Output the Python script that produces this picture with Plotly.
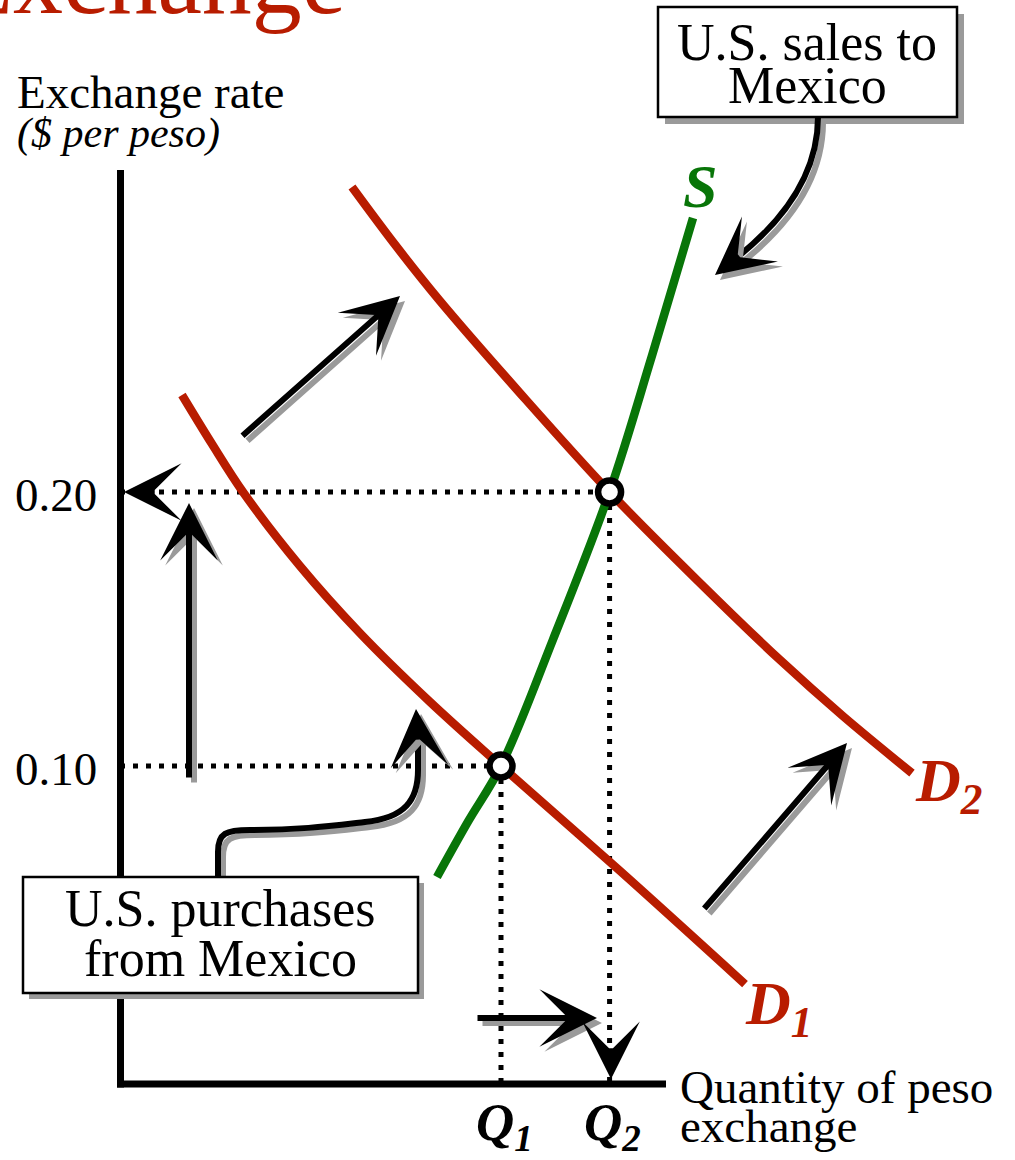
import plotly.graph_objects as go

# ---------------- data ----------------
eq_rates = [0.10, 0.20]              # equilibrium exchange rates ($ per peso)
eq_quantities = [100.0, 128.5]       # Q1, Q2 (arbitrary quantity units)
y_tick_vals = [0.10, 0.20]
y_tick_labels = ["0.10", "0.20"]
x_tick_labels = ["<b><i>Q<sub>1</sub></i></b>", "<b><i>Q<sub>2</sub></i></b>"]

d1_q = [16.27, 24.15, 32.28, 47.24, 62.99, 81.36, 100.0, 131.23, 164.04]
d1_p = [0.2354, 0.2175, 0.2000, 0.1730, 0.1485, 0.1234, 0.1000, 0.0617, 0.0204]
d2_q = [60.89, 72.44, 83.99, 104.99, 128.5, 152.23, 173.23, 189.76, 207.87]
d2_p = [0.3113, 0.2898, 0.2697, 0.2361, 0.2000, 0.1668, 0.1387, 0.1182, 0.0974]
s_q = [83.2, 91.3, 100.0, 113.6, 128.5, 139.6, 150.4]
s_p = [0.0595, 0.0796, 0.1000, 0.1460, 0.2000, 0.2496, 0.3000]

# ---------------- layout geometry ----------------
W, H = 1015, 1160
X0, SX = 120.0, 3.81      # pixel of quantity 0, pixels per quantity unit
Y0, SY = 1040.0, 2740.0   # pixel of rate 0, pixels per $ of rate

RED = "#B81C00"
GREEN = "#087508"
SHADOW = "#9A9A9A"
FONT = "Liberation Serif"


def qx(px):
    return (px - X0) / SX


def ry(py):
    return (Y0 - py) / SY


x_axis_level = ry(1084)   # y of the horizontal axis line
y_axis_pos = qx(120.5)    # x of the vertical axis line

fig = go.Figure()

dotted = dict(color="black", width=5, dash="5px,8px")
Q1, Q2 = eq_quantities
P1, P2 = eq_rates

# dotted guide lines
fig.add_trace(go.Scatter(x=[0, Q2], y=[P2, P2], mode="lines", line=dotted))
fig.add_trace(go.Scatter(x=[0, Q1], y=[P1, P1], mode="lines", line=dotted))
fig.add_trace(go.Scatter(x=[Q1, Q1], y=[P1, x_axis_level], mode="lines", line=dotted))
fig.add_trace(go.Scatter(x=[Q2, Q2], y=[P2, x_axis_level], mode="lines", line=dotted))

# curves
curve_style = dict(width=8.5, shape="spline", smoothing=1.0)
fig.add_trace(go.Scatter(x=d1_q, y=d1_p, mode="lines", line=dict(color=RED, **curve_style)))
fig.add_trace(go.Scatter(x=d2_q, y=d2_p, mode="lines", line=dict(color=RED, **curve_style)))
fig.add_trace(go.Scatter(x=s_q, y=s_p, mode="lines", line=dict(color=GREEN, **curve_style)))

# equilibrium points
fig.add_trace(go.Scatter(x=eq_quantities, y=eq_rates, mode="markers",
                         marker=dict(size=23, color="white", line=dict(color="black", width=6.5))))

shapes = []
# axes
shapes.append(dict(type="line", xref="x", yref="y", x0=y_axis_pos, x1=y_axis_pos,
                   y0=ry(170), y1=ry(1087.5), line=dict(color="black", width=7), layer="below"))
shapes.append(dict(type="line", xref="x", yref="y", x0=qx(117), x1=qx(666),
                   y0=x_axis_level, y1=x_axis_level, line=dict(color="black", width=7), layer="below"))


def path_d(segments, dx=0.0, dy=0.0):
    parts = []
    for cmd, pts in segments:
        coords = " ".join(f"{qx(x + dx):.4f},{ry(y + dy):.6f}" for x, y in pts)
        parts.append(f"{cmd}{coords}")
    return " ".join(parts)


sales_shaft = [("M", [(818, 117)]), ("C", [(818, 185), (768, 232.5), (738.4, 256.3)])]
purch_shaft = [("M", [(218, 878)]), ("L", [(218, 852)]),
               ("C", [(218, 833), (226, 830), (250, 830)]),
               ("C", [(300, 830), (330, 826), (365, 822)]),
               ("C", [(405, 818), (418, 800), (418, 770)]),
               ("L", [(418, 739)])]

SH = 5
for seg in (sales_shaft, purch_shaft):
    shapes.append(dict(type="path", xref="x", yref="y", path=path_d(seg, SH, SH),
                       line=dict(color=SHADOW, width=6), layer="above"))


def box(x0, y0, x1, y1, off):
    shapes.append(dict(type="rect", xref="x", yref="y", x0=qx(x0 + off), x1=qx(x1 + off),
                       y0=ry(y0 + off), y1=ry(y1 + off), fillcolor=SHADOW,
                       line=dict(width=0), layer="above"))
    shapes.append(dict(type="rect", xref="x", yref="y", x0=qx(x0), x1=qx(x1),
                       y0=ry(y0), y1=ry(y1), fillcolor="white",
                       line=dict(color="black", width=2.5), layer="above"))


box(658, 7, 957, 117, 7)
box(23, 877, 418, 993, 6)

for seg in (sales_shaft, purch_shaft):
    shapes.append(dict(type="path", xref="x", yref="y", path=path_d(seg),
                       line=dict(color="black", width=6), layer="above"))

annotations = []


def arrow(tail, tip, shadow=True):
    pairs = []
    if shadow:
        pairs.append(((tail[0] + SH, tail[1] + SH), (tip[0] + SH, tip[1] + SH), SHADOW))
    pairs.append((tail, tip, "black"))
    for t, h, c in pairs:
        annotations.append(dict(x=qx(h[0]), y=ry(h[1]), ax=qx(t[0]), ay=ry(t[1]),
                                xref="x", yref="y", axref="x", ayref="y", text="",
                                showarrow=True, arrowhead=3, arrowsize=1.6,
                                arrowwidth=6, arrowcolor=c))


arrow((241, 437), (400, 296))
arrow((703, 910), (847, 743))
arrow((189, 779), (189, 503))
arrow((476, 1018), (597, 1018))
arrow((730.6, 262.5), (715, 275))
arrow((417.2, 729), (416, 709))
arrow((149, 492), (124, 492), shadow=False)
arrow((611, 1054), (611, 1079), shadow=False)


def label(text, px, base, fs, xanchor="left", color="black"):
    annotations.append(dict(x=qx(px), y=ry(base - 0.3375 * fs), xref="x", yref="y",
                            text=text, showarrow=False, xanchor=xanchor, yanchor="middle",
                            font=dict(size=fs, color=color, family=FONT)))


# partial title at the top (clipped by the picture edge, as in the source)
annotations.append(dict(x=348 / W, y=1 - 36.6 / H, xref="paper", yref="paper",
                        text="Exchange", showarrow=False, xanchor="right", yanchor="bottom",
                        font=dict(size=100, color=RED, family=FONT)))

label("Exchange rate", 15, 108, 47)
label("<i>($ per peso)</i>", 15, 148, 42)

for v, t in zip(y_tick_vals, y_tick_labels):
    annotations.append(dict(x=qx(99), y=v - 0.0012, xref="x", yref="y", text=t,
                            showarrow=False, xanchor="right", yanchor="middle",
                            font=dict(size=47, color="black", family=FONT)))

for q, t in zip(eq_quantities, x_tick_labels):
    annotations.append(dict(x=q + 0.8, y=ry(1144 - 0.3375 * 53), xref="x", yref="y", text=t,
                            showarrow=False, xanchor="center", yanchor="middle",
                            font=dict(size=53, color="black", family=FONT)))

label("Quantity of peso", 678, 1103, 47)
label("exchange", 678, 1142, 47)

label("U.S. sales to", 807, 60, 52, "center")
label("Mexico", 807, 103, 52, "center")
label("U.S. purchases", 220, 926, 52, "center")
label("from Mexico", 220, 976, 52, "center")

label("<b><i>S</i></b>", 700, 207, 62, "center", GREEN)
label("<b><i>D<sub>1</sub></i></b>", 743, 1028, 62, "left", RED)
label("<b><i>D<sub>2</sub></i></b>", 913, 805, 62, "left", RED)

fig.update_layout(
    width=W, height=H, autosize=False,
    margin=dict(l=0, r=0, t=0, b=0, pad=0),
    paper_bgcolor="white", plot_bgcolor="white",
    showlegend=False,
    xaxis=dict(range=[qx(0), qx(W)], visible=False, fixedrange=True),
    yaxis=dict(range=[ry(H), ry(0)], visible=False, fixedrange=True),
    shapes=shapes, annotations=annotations,
)

fig.write_html("out.html")
